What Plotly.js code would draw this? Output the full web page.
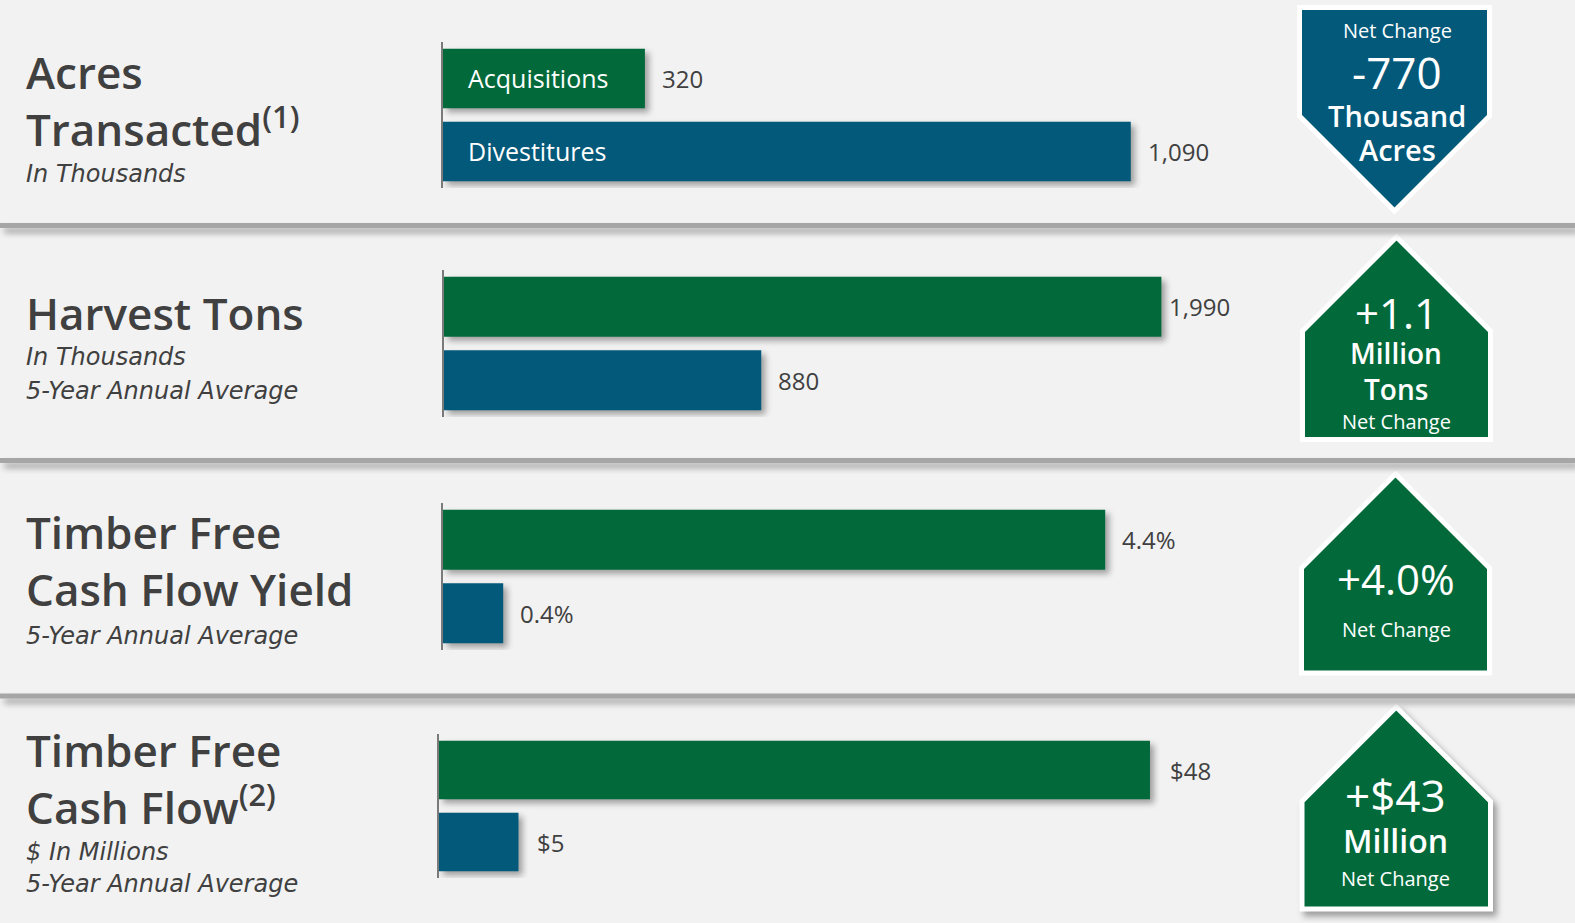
<!DOCTYPE html>
<html>
<head>
<meta charset="utf-8">
<script src="https://cdn.plot.ly/plotly-3.0.1.min.js"></script>
<style>
  html, body { margin: 0; padding: 0; background: #f2f2f2; }
  #chart { width: 1575px; height: 923px; }
</style>
</head>
<body>
<div id="chart"></div>
<script>
// ---------------- data ----------------
const categories = ["Acquisitions", "Divestitures"];
const acresValues = [320, 1090];          // thousand acres
const harvestValues = [1990, 880];        // thousand tons, 5-yr avg
const yieldValues = [4.4, 0.4];           // %, 5-yr avg
const cashFlowValues = [48.3, 5.4];       // $ millions, 5-yr avg

const panelTitles = [
  ["Acres", "Transacted<sup>(1)</sup>"],
  ["Harvest Tons"],
  ["Timber Free", "Cash Flow Yield"],
  ["Timber Free", "Cash Flow<sup>(2)</sup>"]
];
const panelSubtitles = [
  ["In Thousands"],
  ["In Thousands", "5-Year Annual Average"],
  ["5-Year Annual Average"],
  ["$ In Millions", "5-Year Annual Average"]
];
const netChangeText = [
  ["Net Change", "-770", "Thousand", "Acres"],
  ["+1.1", "Million", "Tons", "Net Change"],
  ["+4.0%", "Net Change"],
  ["+$43", "Million", "Net Change"]
];

// ---------------- styles / layout helpers ----------------
const W = 1575, H = 923;
const GREEN = "#026a3a", BLUE = "#03597a", TXT = "#404040";
const FONT = "Open Sans, Noto Sans, sans-serif";
const SUBFONT = "DejaVu Sans, Open Sans, sans-serif";
const px = x => x / W;
const py = y => 1 - y / H;

const fmtNum = v => v.toLocaleString("en-US");
const panels = [
  { vals: acresValues, fmt: fmtNum, axisX: 443, scale: 0.631, top: 42, bottom: 188 },
  { vals: harvestValues, fmt: fmtNum, axisX: 444, scale: 0.3605, top: 270, bottom: 417 },
  { vals: yieldValues, fmt: v => v.toFixed(1) + "%", axisX: 443, scale: 150.5, top: 503, bottom: 650 },
  { vals: cashFlowValues, fmt: v => "$" + Math.round(v), axisX: 439, scale: 14.72, top: 734, bottom: 878 }
];
const valueShift = [[15, 15], [6, 15], [15, 15], [18, 17]];

const data = [];
const layout = {
  width: W, height: H,
  margin: { l: 0, r: 0, t: 0, b: 0 },
  paper_bgcolor: "#f2f2f2",
  plot_bgcolor: "rgba(0,0,0,0)",
  showlegend: false,
  bargap: 0.185,
  annotations: [],
  shapes: [],
  font: { family: FONT, color: TXT }
};

panels.forEach((p, i) => {
  const n = i === 0 ? "" : String(i + 1);
  data.push({
    type: "bar",
    orientation: "h",
    x: p.vals,
    y: categories,
    xaxis: "x" + n,
    yaxis: "y" + n,
    marker: { color: [GREEN, BLUE] },
    hoverinfo: "skip"
  });
  layout["xaxis" + n] = {
    domain: [px(p.axisX), px(p.axisX + 1000)],
    range: [0, 1000 / p.scale],
    anchor: "y" + n,
    visible: false,
    fixedrange: true
  };
  layout["yaxis" + n] = {
    domain: [py(p.bottom), py(p.top)],
    type: "category",
    categoryorder: "array",
    categoryarray: categories,
    autorange: "reversed",
    anchor: "x" + n,
    showline: true,
    linecolor: "#7a7a7a",
    linewidth: 2,
    showticklabels: false,
    ticks: "",
    showgrid: false,
    zeroline: false,
    fixedrange: true
  };
  p.vals.forEach((v, j) => {
    layout.annotations.push({
      x: v, y: categories[j], xref: "x" + n, yref: "y" + n,
      text: p.fmt(v), showarrow: false, xanchor: "left", yanchor: "middle",
      xshift: valueShift[i][j],
      font: { size: 24, color: TXT, family: FONT, weight: 500 }
    });
    if (i === 0) {
      layout.annotations.push({
        x: 0, y: categories[j], xref: "x" + n, yref: "y" + n,
        text: categories[j], showarrow: false, xanchor: "left", yanchor: "middle",
        xshift: 23,
        font: { size: 25, color: "#ffffff", family: FONT }
      });
    }
  });
});

// left-hand titles
const titleY = [[72, 127], [313], [532, 589], [750, 805]];
const subY = [[174], [357, 391], [636], [852, 884]];
panelTitles.forEach((lines, i) => {
  lines.forEach((t, k) => {
    layout.annotations.push({
      x: px(24), y: py(titleY[i][k]), xref: "paper", yref: "paper",
      text: t, showarrow: false, xanchor: "left", yanchor: "middle",
      font: { size: 44, color: TXT, family: FONT, weight: 600 }
    });
  });
  panelSubtitles[i].forEach((t, k) => {
    layout.annotations.push({
      x: px(24), y: py(subY[i][k]), xref: "paper", yref: "paper",
      text: t, showarrow: false, xanchor: "left", yanchor: "middle",
      font: { size: 24, color: TXT, family: SUBFONT, style: "italic" }
    });
  });
});

// separators
[225.5, 460.5, 696].forEach(y => {
  layout.shapes.push({
    type: "line", xref: "paper", yref: "paper",
    x0: 0, x1: 1, y0: py(y), y1: py(y),
    line: { color: "#a6a6a6", width: 5 }
  });
});

// net change badges
function pentagon(left, right, top, bottom, up) {
  const cx = (left + right) / 2, hw = (right - left) / 2;
  let pts;
  if (up) {
    pts = [[cx, top], [right, top + hw], [right, bottom], [left, bottom], [left, top + hw]];
  } else {
    pts = [[left, top], [right, top], [right, bottom - hw], [cx, bottom], [left, bottom - hw]];
  }
  return "M" + pts.map(q => px(q[0]).toFixed(5) + "," + py(q[1]).toFixed(5)).join(" L") + " Z";
}
const badges = [
  { l: 1299.5, r: 1489.5, t: 7.5, b: 211, up: false, color: BLUE },
  { l: 1302.5, r: 1490.5, t: 237, b: 439.5, up: true, color: GREEN },
  { l: 1301.5, r: 1489.5, t: 474, b: 673, up: true, color: GREEN },
  { l: 1302, r: 1490.5, t: 707, b: 909, up: true, color: GREEN }
];
badges.forEach(b => {
  layout.shapes.push({
    type: "path", xref: "paper", yref: "paper",
    path: pentagon(b.l, b.r, b.t, b.b, b.up),
    fillcolor: b.color,
    line: { color: "#ffffff", width: 5 },
    layer: "below"
  });
});

const badgeY = [[31, 72, 115, 150], [312, 353, 389, 421], [578, 629], [795, 840, 878]];
const badgeSize = [[20, 44, 29, 29], [42, 28, 28, 20], [42, 20], [44, 32, 20]];
const badgeWeight = [[400, 400, 600, 600], [400, 600, 600, 400], [400, 400], [400, 600, 400]];
const badgeX = [1397, 1396, 1396, 1395];
netChangeText.forEach((lines, i) => {
  lines.forEach((t, k) => {
    layout.annotations.push({
      x: px(badgeX[i]), y: py(badgeY[i][k]), xref: "paper", yref: "paper",
      text: t, showarrow: false, xanchor: "center", yanchor: "middle",
      font: { size: badgeSize[i][k], color: "#ffffff", family: FONT, weight: badgeWeight[i][k] }
    });
  });
});

Plotly.newPlot("chart", data, layout, { displayModeBar: false, staticPlot: true }).then(() => {
  document.querySelectorAll(".bars .point path").forEach(p => {
    p.style.filter = "drop-shadow(4px 4px 3px rgba(0,0,0,0.35))";
  });
  const shp = document.querySelectorAll(".shapelayer path");
  shp.forEach((p, idx) => {
    if (idx >= 3) p.style.filter = "drop-shadow(4px 5px 3px rgba(0,0,0,0.35))";
  });
});
</script>
</body>
</html>
